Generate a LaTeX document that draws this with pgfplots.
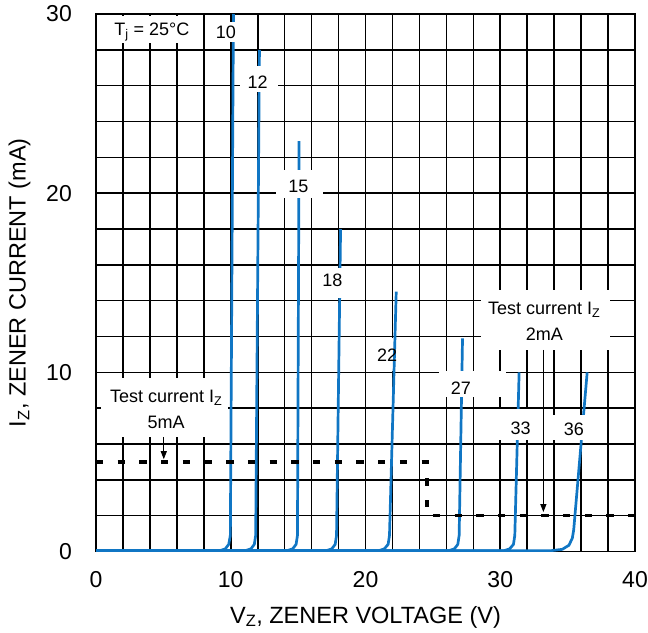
\documentclass[border=0pt]{standalone}
\usepackage{fontspec}
\setmainfont{Liberation Sans}
\usepackage{pgfplots}
\pgfplotsset{compat=1.18}
\usetikzlibrary{arrows.meta}
\definecolor{zblue}{RGB}{16,118,196}
\begin{document}
\begin{tikzpicture}
\begin{axis}[
  width=539pt, height=537.5pt, scale only axis,
  xmin=0, xmax=40, ymin=0, ymax=30,
  xtick={0,10,20,30,40}, ytick={0,10,20,30},
  minor x tick num=4, minor y tick num=4,
  grid=both,
  major grid style={black, line width=1.6pt},
  minor grid style={black, line width=1.6pt},
  major tick length=0pt, minor tick length=0pt,
  axis line style={black, line width=1.6pt},
  /pgf/number format/assume math mode=true,
  ticklabel style={font=\fontsize{23}{27}\selectfont, inner sep=0pt},
  xticklabel style={anchor=base, yshift=-35.5pt},
  yticklabel style={anchor=east, xshift=-24pt},
  xlabel={V\textsubscript{Z}, ZENER VOLTAGE (V)},
  ylabel={I\textsubscript{Z}, ZENER CURRENT (mA)},
  label style={font=\fontsize{23.5}{28}\selectfont, inner sep=0pt},
  xlabel style={at={(axis description cs:0.5,0)}, anchor=base, yshift=-71.5pt},
  ylabel style={at={(axis description cs:0,0.5)}, anchor=base, yshift=70.3pt},
  clip=false,
]
% 22 box is beneath the curve
\fill[white] (20.0,10.1) rectangle (23.7,11.9);
% zener curves
\addplot[zblue, line width=2.7pt, line join=round] coordinates {(0,0.05)(9.2,0.05)(9.6,0.15)(9.85,0.4)(9.97,0.9)(10.2,30)};
\addplot[zblue, line width=2.7pt, line join=round] coordinates {(0,0.05)(11.1,0.05)(11.5,0.15)(11.75,0.4)(11.85,0.9)(12.13,28)};
\addplot[zblue, line width=2.7pt, line join=round] coordinates {(0,0.05)(14.2,0.05)(14.6,0.15)(14.85,0.4)(14.95,0.9)(15.07,22.9)};
\addplot[zblue, line width=2.7pt, line join=round] coordinates {(0,0.05)(17.1,0.05)(17.5,0.15)(17.75,0.4)(17.85,0.9)(18.15,18)};
\addplot[zblue, line width=2.7pt, line join=round] coordinates {(0,0.05)(21.0,0.05)(21.4,0.15)(21.68,0.4)(21.78,0.9)(22.28,14.5)};
\addplot[zblue, line width=2.7pt, line join=round] coordinates {(0,0.05)(26.2,0.05)(26.6,0.15)(26.85,0.4)(26.95,0.9)(27.2,11.9)};
\addplot[zblue, line width=2.7pt, line join=round] coordinates {(0,0.05)(30.3,0.05)(30.7,0.15)(30.98,0.4)(31.08,0.9)(31.4,10)};
\addplot[zblue, line width=2.7pt, line join=round] coordinates {(0,0.05)(33.8,0.05)(34.6,0.12)(35.1,0.35)(35.35,0.75)(35.45,1.2)(36.45,10)};
% test current
\addplot[black, line width=3.6pt, dash pattern=on 7.3pt off 14.4pt] coordinates {(0,5)(24.55,5)(24.55,2)(40,2)};
% label boxes
\fill[white] (0.25,28.4) rectangle (7.6,29.88);
\fill[white] (8.5,28.41) rectangle (10.8,29.53);
\fill[white] (10.72,25.67) rectangle (13.53,27.07);
\fill[white] (13.38,19.75) rectangle (16.86,21.31);
\fill[white] (16.41,14.16) rectangle (18.85,15.84);
\fill[white] (25.49,8.63) rectangle (30.41,10.08);
\fill[white] (29.8,6.23) rectangle (33.6,7.96);
\fill[white] (33.86,6.23) rectangle (37.56,7.64);
\fill[white] (0.37,6.4) rectangle (9.83,9.69);
\fill[white] (28.54,11.26) rectangle (38.15,14.61);
\begin{scope}[every node/.style={font=\fontsize{18}{21}\selectfont, inner sep=0pt}]
\node at (4.14,29.0) {T\textsubscript{j} = 25°C};
\node at (9.64,28.98) {10};
\node at (12.0,26.19) {12};
\node at (15.01,20.36) {15};
\node at (17.55,15.11) {18};
\node at (21.61,10.95) {22};
\node at (27.08,9.12) {27};
\node at (31.52,6.88) {33};
\node at (35.46,6.84) {36};
\node at (5.21,8.58) {Test current I\textsubscript{Z}};
\node at (5.21,7.18) {5mA};
\node at (33.27,13.49) {Test current I\textsubscript{Z}};
\node at (33.27,12.1) {2mA};
\end{scope}
\draw[black, line width=1pt, -{Triangle[length=8pt,width=6pt]}] (5.03,6.4) -- (5.03,5.15);
\draw[black, line width=1pt, -{Triangle[length=8pt,width=6pt]}] (33.2,11.26) -- (33.2,2.2);
\end{axis}
\pgfresetboundingbox
\path ([shift={(-96pt,-80.5pt)}]current axis.south west) rectangle ([shift={(13pt,14pt)}]current axis.north east);
\end{tikzpicture}
\end{document}
